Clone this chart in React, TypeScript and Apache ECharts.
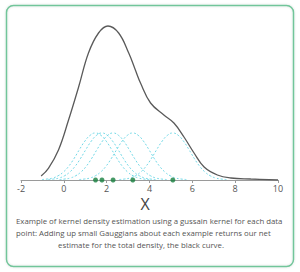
import React, { useEffect, useRef } from "react";
import * as echarts from "echarts";

// Observed sample points (green dots)
const samplePoints = [1.48, 1.78, 2.3, 3.22, 5.09];

// Kernel shape: offset from sample point -> height
const kernelOffsets = [-2.5, -2.25, -2, -1.75, -1.5, -1.25, -1, -0.75, -0.5, -0.25, 0, 0.25, 0.5, 0.75, 1, 1.25, 1.5, 1.75, 2, 2.25, 2.5];
const kernelHeights = [0.5, 1, 2, 4.2, 8, 13.8, 21.6, 30.5, 38.8, 44.7, 47, 44.7, 38.8, 30.5, 21.6, 13.8, 8, 4.2, 2, 1, 0.5];

// Total density curve (black)
const densityX = [-1.06, -0.72, -0.25, 0.22, 0.69, 1.15, 1.62, 2.06, 2.56, 3.03, 3.34, 3.58, 4.05, 4.67, 5.14, 5.61, 6.08, 6.55, 7.17, 7.8, 8.73, 10];
const densityY = [4, 11.7, 30, 60, 93, 127, 147, 154, 147, 127, 110, 97, 77, 65, 57, 43, 27, 13, 5, 2, 1, 0];

const xTicks = [-2, 0, 2, 4, 6, 8, 10];

const captionLines = [
  "Example of kernel density estimation using a gussain kernel for each data",
  "point: Adding up small Gauggians about each example returns our net",
  "estimate for the total density, the black curve.",
];

export default function App() {
  const ref = useRef<HTMLDivElement>(null);
  useEffect(() => {
    if (!ref.current) return;
    const chart = echarts.init(ref.current, null, { renderer: "svg" });
    const kernelSeries = samplePoints.map((p, i) => ({
      type: "line",
      name: "kernel" + i,
      data: kernelOffsets.map((o, j) => [p + o, kernelHeights[j]]),
      smooth: true,
      showSymbol: false,
      symbol: "none",
      lineStyle: { color: "#72d8e6", width: 1, type: [2, 2] },
      z: 2,
    }));
    chart.setOption({
      animation: false,
      grid: { left: 21, right: 22, top: 20, bottom: 92 },
      xAxis: {
        type: "value",
        min: xTicks[0],
        max: xTicks[xTicks.length - 1],
        interval: 2,
        splitLine: { show: false },
        axisLine: { lineStyle: { color: "#9a9a9a", width: 1 } },
        axisTick: { show: true, length: 3, lineStyle: { color: "#9a9a9a" } },
        axisLabel: { color: "#555", fontSize: 9, margin: 4, fontFamily: "Open Sans" },
      },
      yAxis: { type: "value", min: 0, max: 160, show: false },
      series: [
        ...kernelSeries,
        {
          type: "line",
          name: "density",
          data: densityX.map((x, i) => [x, densityY[i]]),
          smooth: 0.4,
          showSymbol: false,
          symbol: "none",
          lineStyle: { color: "#5a5a5a", width: 1.3 },
          z: 3,
        },
        {
          type: "scatter",
          name: "samples",
          data: samplePoints.map((p) => [p, 0]),
          symbolSize: 5,
          itemStyle: { color: "#17803f" },
          z: 4,
        },
      ],
      graphic: [
        {
          type: "rect",
          shape: { x: 6.5, y: 5.5, width: 287, height: 261, r: 7 },
          style: { fill: "none", stroke: "#72c59a", lineWidth: 1.5, shadowBlur: 2, shadowColor: "rgba(0,0,0,0.15)" },
          z: -1,
        },
        {
          type: "text",
          x: 145,
          y: 204,
          style: { text: "X", fill: "#444", fontSize: 16, fontFamily: "Open Sans", align: "center", verticalAlign: "middle" },
        },
        {
          type: "text",
          x: 16,
          y: 221,
          style: { text: captionLines[0], fill: "#555", fontSize: 7.8, fontFamily: "Open Sans", verticalAlign: "middle" },
        },
        {
          type: "text",
          x: 16,
          y: 233,
          style: { text: captionLines[1], fill: "#555", fontSize: 7.8, fontFamily: "Open Sans", verticalAlign: "middle" },
        },
        {
          type: "text",
          x: 141,
          y: 245,
          style: { text: captionLines[2], fill: "#555", fontSize: 7.8, fontFamily: "Open Sans", align: "center", verticalAlign: "middle" },
        },
      ],
    });
    return () => chart.dispose();
  }, []);
  return <div ref={ref} style={{ width: 300, height: 272, position: "absolute", left: 0, top: 0, background: "#fff" }} />;
}
